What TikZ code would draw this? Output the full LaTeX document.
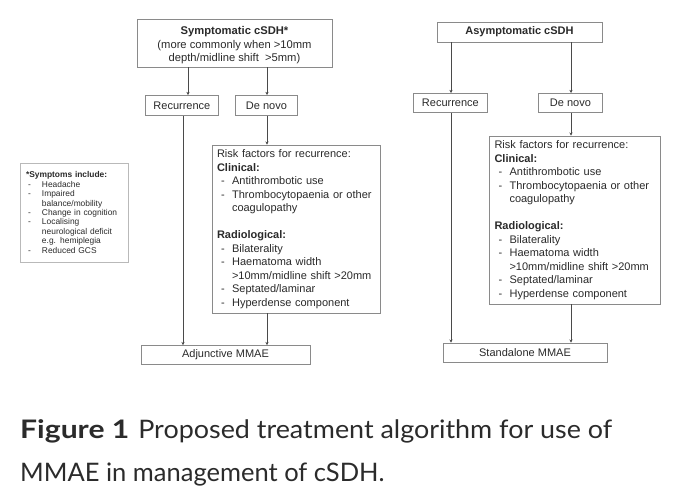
\documentclass[tikz,border=0pt]{standalone}
\usepackage{fontspec}
\setmainfont{Liberation Sans}
\newfontfamily\capfont{Lato}
\usetikzlibrary{arrows.meta}
\definecolor{boxgray}{HTML}{8A8A8A}
\definecolor{txt}{HTML}{2A2A2A}
\definecolor{arrgray}{HTML}{4A4A4A}
\definecolor{capcol}{HTML}{2B2B2B}
\tikzset{
  x=1pt, y=-1pt,
  box/.style={draw=boxgray, line width=0.8pt, inner sep=0pt, text=txt, font=\fontsize{11}{13.5}\selectfont, rectangle},
  riskbox/.style={box, minimum height=168pt, align=left, inner xsep=5pt},
  arr/.style={draw=arrgray, line width=0.8pt, -{Stealth[length=3.2pt,width=3.2pt]}},
  captext/.style={anchor=base west, inner sep=0pt, text=capcol, font=\capfont\fontsize{25.5}{30}\selectfont},
}
\newcommand{\dl}[1]{\hspace*{4pt}-\hspace*{7.5pt}#1}
\newcommand{\ind}[1]{\hspace*{15pt}#1}
\newcommand{\sdl}[1]{\hspace*{2pt}-\hspace*{11.2pt}#1}
\newcommand{\sind}[1]{\hspace*{16pt}#1}
\begin{document}
\begin{tikzpicture}
\useasboundingbox[fill=white] (0,0) rectangle (680,499);
% left column
\node[box, minimum width=195pt, minimum height=48pt, align=center, font=\fontsize{11.2}{13.6}\selectfont] (symp) at (234.5,43)
  {\rule{0pt}{12.5pt}\textbf{Symptomatic cSDH*}\\(more commonly when >10mm\\depth/midline shift\ \ >5mm)};
\node[box, minimum width=73pt, minimum height=20pt, anchor=north west] (rec1) at (145,95) {Recurrence};
\node[box, minimum width=62pt, minimum height=20pt, anchor=north west] (dn1) at (235,95) {De novo};
\node[riskbox, minimum width=168pt, text width=158pt] (risk1) at (296,229)
  {Risk factors for recurrence:\\
   \textbf{Clinical:}\\
   \dl{Antithrombotic use}\\
   \dl{Thrombocytopaenia or other}\\
   \ind{coagulopathy}\\[13.5pt]
   \textbf{Radiological:}\\
   \dl{Bilaterality}\\
   \dl{Haematoma width}\\
   \ind{>10mm/midline shift >20mm}\\
   \dl{Septated/laminar}\\
   \dl{Hyperdense component}};
\node[box, minimum width=169pt, minimum height=19pt] (adj) at (225.5,355) {Adjunctive MMAE};
% symptoms box
\node[draw=boxgray!60, line width=0.6pt, rectangle, inner sep=0pt, minimum width=108pt, minimum height=99pt, text width=96pt, align=left, text=txt, font=\fontsize{8.4}{9.4}\selectfont] (symbox) at (74,212.5)
  {\textbf{*Symptoms include:}\\
   \sdl{Headache}\\
   \sdl{Impaired}\\
   \sind{balance/mobility}\\
   \sdl{Change in cognition}\\
   \sdl{Localising}\\
   \sind{neurological deficit}\\
   \sind{e.g. hemiplegia}\\
   \sdl{Reduced GCS}};
% right column
\node[box, minimum width=165pt, minimum height=20pt] (asym) at (519.5,32) {\textbf{Asymptomatic cSDH}};
\node[box, minimum width=74pt, minimum height=19pt, anchor=north west] (rec2) at (413,93) {Recurrence};
\node[box, minimum width=64pt, minimum height=19pt, anchor=north west] (dn2) at (538,93) {De novo};
\node[riskbox, minimum width=171pt, text width=160pt, inner xsep=5.5pt] (risk2) at (574.5,220)
  {Risk factors for recurrence:\\
   \textbf{Clinical:}\\
   \dl{Antithrombotic use}\\
   \dl{Thrombocytopaenia or other}\\
   \ind{coagulopathy}\\[13.5pt]
   \textbf{Radiological:}\\
   \dl{Bilaterality}\\
   \dl{Haematoma width}\\
   \ind{>10mm/midline shift >20mm}\\
   \dl{Septated/laminar}\\
   \dl{Hyperdense component}};
\node[box, minimum width=164pt, minimum height=19pt] (stand) at (525,352.5) {Standalone MMAE};
% arrow columns
\coordinate (c1) at (188,0);
\coordinate (c2) at (267,0);
\coordinate (c3) at (183,0);
\coordinate (c4) at (451,0);
\coordinate (c5) at (571,0);
\draw[arr] (symp.south -| c1) -- (rec1.north -| c1);
\draw[arr] (symp.south -| c2) -- (dn1.north -| c2);
\draw[arr] (rec1.south -| c3) -- (adj.north -| c3);
\draw[arr] (dn1.south -| c2) -- (risk1.north -| c2);
\draw[arr] (risk1.south -| c2) -- (adj.north -| c2);
\draw[arr] (asym.south -| c4) -- (rec2.north -| c4);
\draw[arr] (asym.south -| c5) -- (dn2.north -| c5);
\draw[arr] (rec2.south -| c4) -- (stand.north -| c4);
\draw[arr] (dn2.south -| c5) -- (risk2.north -| c5);
\draw[arr] (risk2.south -| c5) -- (stand.north -| c5);
% caption
\node[captext] (cap1) at (20,438)
  {\scalebox{1.18}[1]{\textbf{Figure 1}}\hspace{9pt}\scalebox{1.055}[1]{Proposed treatment algorithm for use of}};
\node[captext] (cap2) at (20,481)
  {MMAE in management of cSDH.};
\end{tikzpicture}
\end{document}
